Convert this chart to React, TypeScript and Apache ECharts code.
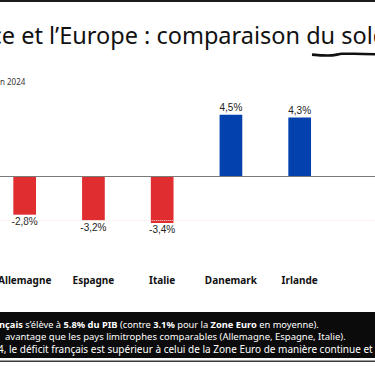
import React, { useEffect, useRef } from "react";
import * as echarts from "echarts";

const categories = ["Allemagne", "Espagne", "Italie", "Danemark", "Irlande", ""];
const soldeValues: (number | null)[] = [-2.8, -3.2, -3.4, 4.5, 4.3, null];
const titleText = "ce et l\u2019Europe : comparaison du solde";
const subtitleText = "en 2024";
const noteLine2 = "avantage que les pays limitrophes comparables (Allemagne, Espagne, Italie).";
const noteLine3 = "4, le déficit français est supérieur à celui de la Zone Euro de manière continue et";

const RED = "#e02d2f";
const BLUE = "#0342ae";
const BOX_FONT = "'Noto Sans', sans-serif";
const OFF = 10; // the chart canvas starts 10px left of the page

export default function App() {
  const ref = useRef<HTMLDivElement>(null);
  useEffect(() => {
    if (!ref.current) return;
    const chart = echarts.init(ref.current, null, { renderer: "svg" });
    const rich = {
      n: { fill: "#ffffff", fontSize: 9.3, fontFamily: BOX_FONT },
      b: { fill: "#ffffff", fontSize: 9.3, fontFamily: BOX_FONT, fontWeight: "bold" },
    };
    chart.setOption({
      animation: false,
      backgroundColor: "#ffffff",
      grid: { left: 0.3, right: 9.2, top: 94.1, bottom: 96.5, containLabel: false },
      xAxis: {
        type: "category",
        data: categories,
        axisLine: { show: false, onZero: false },
        axisTick: { show: false },
        axisLabel: {
          margin: 5,
          fontSize: 10,
          fontWeight: "bold",
          color: "#111111",
          fontFamily: "'Noto Sans', sans-serif",
          interval: 0,
        },
      },
      yAxis: {
        type: "value",
        min: -6.8,
        max: 6,
        show: false,
        splitLine: { show: false },
      },
      series: [
        {
          type: "bar",
          barWidth: 22.7,
          data: soldeValues.map((v) => ({
            value: v,
            itemStyle: { color: v !== null && v < 0 ? RED : BLUE },
            label: { position: v !== null && v < 0 ? "bottom" : "top" },
          })),
          label: {
            show: true,
            distance: 2,
            fontSize: 10,
            color: "#222222",
            fontFamily: "'Liberation Sans', Arial, sans-serif",
            formatter: (p: any) => (p.value == null ? "" : p.value.toFixed(1).replace(".", ",") + "%"),
          },
          markLine: {
            silent: true,
            symbol: ["none", "none"],
            label: { show: false },
            data: [
              { yAxis: 0, lineStyle: { color: "#7a7a7a", width: 1.2, type: "solid" } },
              { yAxis: -3.2, lineStyle: { color: "#f8e4e4", width: 1, type: "dotted" } },
            ],
          },
        },
      ],
      graphic: [
        { type: "rect", shape: { x: OFF, y: 0, width: 375, height: 2 }, style: { fill: "#1c1c1c" } },
        {
          type: "text",
          x: OFF - 9.5,
          y: 34.5,
          style: {
            text: titleText,
            fontSize: 23.5,
            fontFamily: "'Noto Sans', sans-serif",
            fill: "#111111",
            align: "left",
            verticalAlign: "middle",
          },
        },
        {
          type: "polyline",
          shape: {
            points: [
              [OFF + 312, 54.6],
              [OFF + 322, 55.4],
              [OFF + 332, 55.4],
              [OFF + 342, 53.8],
              [OFF + 354, 53.8],
              [OFF + 375, 54.2],
            ],
            smooth: 0.3,
          },
          style: { stroke: "#111111", lineWidth: 2.6, fill: "none" },
        },
        {
          type: "text",
          x: OFF - 4.5,
          y: 81,
          style: {
            text: subtitleText,
            fontSize: 8,
            fontFamily: "'Noto Sans', sans-serif",
            fill: "#333333",
            align: "left",
            verticalAlign: "middle",
          },
        },
        { type: "rect", shape: { x: OFF, y: 312, width: 375, height: 46 }, style: { fill: "#0b0b0b" } },
        { type: "rect", shape: { x: OFF, y: 360.5, width: 375, height: 1.5 }, style: { fill: "#3a3a3a" } },
        {
          type: "text",
          x: OFF - 1,
          y: 324.3,
          style: {
            text:
              "{b|nçais}{n| s’élève à }{b|5.8% du PIB}{n| (contre }{b|3.1%}{n| pour la }{b|Zone Euro}{n| en moyenne).}",
            rich,
            align: "left",
            verticalAlign: "middle",
          },
        },
        {
          type: "text",
          x: OFF + 5,
          y: 336.4,
          style: {
            text: noteLine2,
            fontSize: 9.5,
            fontFamily: BOX_FONT,
            fill: "#ffffff",
            align: "left",
            verticalAlign: "middle",
          },
        },
        {
          type: "text",
          x: OFF - 2,
          y: 348.8,
          style: {
            text: noteLine3,
            fontSize: 10,
            fontFamily: BOX_FONT,
            fill: "#ffffff",
            align: "left",
            verticalAlign: "middle",
          },
        },
      ],
    });
    return () => chart.dispose();
  }, []);
  return (
    <div
      ref={ref}
      style={{ position: "fixed", left: -OFF, top: 0, width: 422, height: 366, background: "#fff" }}
    />
  );
}
